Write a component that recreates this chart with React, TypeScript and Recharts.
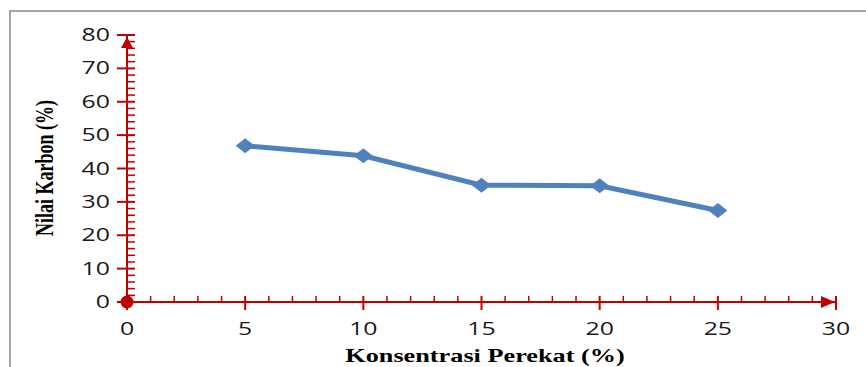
import React from "react";
import { LineChart, Line, XAxis, YAxis, ReferenceDot } from "recharts";

const concentration = [5, 10, 15, 20, 25];
const carbon = [46.8, 43.8, 35.0, 34.8, 27.4];

const xTicks = [0, 1, 2, 3, 4, 5, 6, 7, 8, 9, 10, 11, 12, 13, 14, 15, 16, 17, 18, 19, 20, 21, 22, 23, 24, 25, 26, 27, 28, 29, 30];
const xMajor = [0, 5, 10, 15, 20, 25, 30];
const yTicks = [0, 2, 4, 6, 8, 10, 12, 14, 16, 18, 20, 22, 24, 26, 28, 30, 32, 34, 36, 38, 40, 42, 44, 46, 48, 50, 52, 54, 56, 58, 60, 62, 64, 66, 68, 70, 72, 74, 76, 78, 80];
const yMajor = [0, 10, 20, 30, 40, 50, 60, 70, 80];

const xTitle = "Konsentrasi Perekat (%)";
const yTitle = "Nilai Karbon (%)";

const data = concentration.map((c, i) => ({ x: c, carbon: carbon[i] }));

const RED = "#c00000";
const BLUE = "#4f81bd";
const SX = 1.42;

const XTick = (props: any) => {
  const { x, y, payload } = props;
  const v = payload.value;
  const major = xMajor.includes(v);
  return (
    <g>
      <line x1={x} x2={x} y1={y - 6} y2={major ? y + 8 : y} stroke={RED} strokeWidth={major ? 2 : 1.5} />
      {major && (
        <text
          transform={`translate(${x},${y + 33}) scale(${SX},1)`}
          textAnchor="middle"
          fontFamily="'Open Sans', sans-serif"
          fontSize={17.5}
          fontWeight={500}
          fill="#1a1a1a"
        >
          {v}
        </text>
      )}
    </g>
  );
};

const YTick = (props: any) => {
  const { x, y, payload } = props;
  const v = payload.value;
  const major = yMajor.includes(v);
  return (
    <g>
      <line x1={major ? x - 10 : x} x2={x + 8} y1={y} y2={y} stroke={RED} strokeWidth={major ? 2 : 1.5} />
      {major && (
        <text
          transform={`translate(${x - 17},${y + 6}) scale(${SX},1)`}
          textAnchor="end"
          fontFamily="'Open Sans', sans-serif"
          fontSize={17.5}
          fontWeight={500}
          fill="#1a1a1a"
        >
          {v}
        </text>
      )}
    </g>
  );
};

const Diamond = (props: any) => {
  const { cx, cy } = props;
  if (cx == null || cy == null) return null;
  return <path d={`M${cx - 9.5},${cy} L${cx},${cy - 7.5} L${cx + 9.5},${cy} L${cx},${cy + 7.5} Z`} fill={BLUE} />;
};

const UpArrow = (props: any) => {
  const { cx, cy } = props;
  return <path d={`M${cx},${cy + 2} L${cx + 6},${cy + 13} L${cx - 6},${cy + 13} Z`} fill={RED} />;
};

const RightArrow = (props: any) => {
  const { cx, cy } = props;
  return <path d={`M${cx - 1},${cy} L${cx - 15},${cy - 6} L${cx - 15},${cy + 6} Z`} fill={RED} />;
};

const OriginDot = (props: any) => {
  const { cx, cy } = props;
  return <circle cx={cx} cy={cy} r={6.5} fill={RED} />;
};

export default function App() {
  return (
    <div style={{ position: "absolute", left: 0, top: 0, width: 866, height: 367, background: "#fff", overflow: "hidden" }}>
      <div
        style={{
          position: "absolute",
          left: 9,
          top: 10,
          width: 870,
          height: 370,
          borderLeft: "2px solid #a6a6a6",
          borderTop: "2px solid #a6a6a6",
        }}
      />
      <div style={{ position: "absolute", left: 0, top: 0 }}>
        <LineChart width={866} height={367} data={data} margin={{ top: 35, right: 30, bottom: 35, left: 67 }}>
          <XAxis
            dataKey="x"
            type="number"
            domain={[0, 30]}
            ticks={xTicks}
            interval={0}
            height={30}
            tickSize={0}
            tickMargin={0}
            tickLine={false}
            axisLine={{ stroke: RED, strokeWidth: 2 }}
            tick={<XTick />}
          />
          <YAxis
            type="number"
            domain={[0, 80]}
            ticks={yTicks}
            interval={0}
            width={60}
            tickSize={0}
            tickMargin={0}
            tickLine={false}
            axisLine={{ stroke: RED, strokeWidth: 2 }}
            tick={<YTick />}
          />
          <Line
            type="linear"
            dataKey="carbon"
            stroke={BLUE}
            strokeWidth={5}
            dot={<Diamond />}
            activeDot={false}
            isAnimationActive={false}
          />
          <ReferenceDot x={0} y={80} r={6} shape={<UpArrow />} ifOverflow="visible" />
          <ReferenceDot x={30} y={0} r={6} shape={<RightArrow />} ifOverflow="visible" />
          <ReferenceDot x={0} y={0} r={6.5} shape={<OriginDot />} ifOverflow="visible" />
          <text
            transform={`translate(485,362) scale(${SX},1)`}
            textAnchor="middle"
            fontFamily="'Liberation Serif', 'Times New Roman', serif"
            fontWeight="bold"
            fontSize={18.5}
            fill="#000"
          >
            {xTitle}
          </text>
          <text
            transform={`translate(53,168) scale(1.4,1) rotate(-90)`}
            textAnchor="middle"
            fontFamily="'Liberation Serif', 'Times New Roman', serif"
            fontWeight="bold"
            fontSize={18}
            fill="#000"
          >
            {yTitle}
          </text>
        </LineChart>
      </div>
    </div>
  );
}
